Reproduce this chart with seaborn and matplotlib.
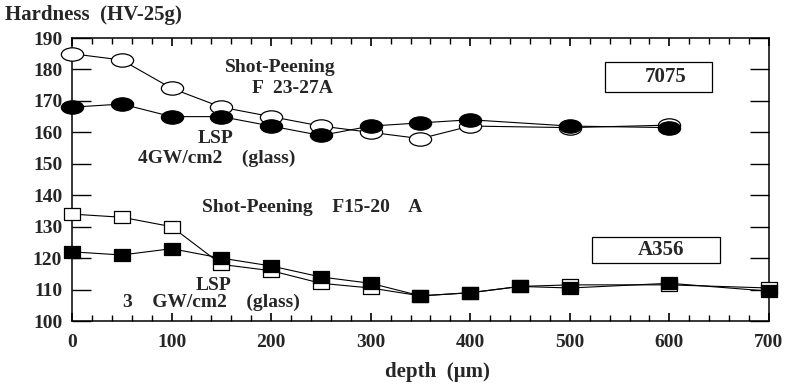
import matplotlib
matplotlib.use("Agg")
import matplotlib.pyplot as plt
import matplotlib.ticker as ticker
from matplotlib.path import Path
from matplotlib.markers import MarkerStyle
from matplotlib.patches import Rectangle
import numpy as np
import pandas as pd
import seaborn as sns

# depth (um) and hardness (HV-25g)
DEPTH_7075 = [0, 50, 100, 150, 200, 250, 300, 350, 400, 500, 600]
SP_7075 = [185, 183, 174, 168, 165, 162, 160, 158, 162, 161.5, 162.3]
LSP_7075 = [168, 169, 165, 165, 162, 159, 162, 163, 164, 162, 161.5]

DEPTH_A356 = [0, 50, 100, 150, 200, 250, 300, 350, 400, 450, 500, 600, 700]
SP_A356 = [134, 133, 130, 118, 116, 112, 110.5, 108, 109, 111, 111.5, 111.5, 110.5]
LSP_A356 = [122, 121, 123, 120, 117.5, 114, 112, 108, 109, 111, 110.5, 112, 109.5]

sns.set_style("ticks")
plt.rcParams["font.family"] = ["Liberation Serif", "DejaVu Serif"]
plt.rcParams["font.weight"] = "bold"

# flattened marker shapes (the scan shows squashed circles/squares)
circ = Path.unit_circle()
ell = Path(circ.vertices * np.array([1.0, 0.6]), circ.codes)
sq = Path([(-1, -0.75), (1, -0.75), (1, 0.75), (-1, 0.75), (-1, -0.75)],
          [Path.MOVETO, Path.LINETO, Path.LINETO, Path.LINETO, Path.CLOSEPOLY])

fig = plt.figure(figsize=(8.09, 3.87), dpi=100)
ax = fig.add_axes([0.089, 0.1705, 0.8615, 0.7313])

series = [
    (DEPTH_7075, SP_7075, ell, "white", 16),
    (DEPTH_7075, LSP_7075, ell, "black", 16),
    (DEPTH_A356, SP_A356, sq, "white", 12),
    (DEPTH_A356, LSP_A356, sq, "black", 12),
]
for xs, ys, mk, fc, ms in series:
    df = pd.DataFrame({"depth": xs, "hv": ys})
    sns.lineplot(data=df, x="depth", y="hv", ax=ax, color="black", lw=0.8,
                 marker=MarkerStyle(mk), markersize=ms, markerfacecolor=fc,
                 markeredgecolor="black", markeredgewidth=0.9, clip_on=False,
                 zorder=3)

ax.set_xlim(0, 700)
ax.set_ylim(100, 190)
ax.set_xlabel("")
ax.set_ylabel("")
ax.set_axisbelow(False)
ax.xaxis.set_major_locator(ticker.MultipleLocator(100))
ax.xaxis.set_minor_locator(ticker.MultipleLocator(20))
ax.yaxis.set_major_locator(ticker.MultipleLocator(10))
ax.yaxis.set_minor_locator(ticker.NullLocator())
ax.xaxis.set_ticks_position("both")
ax.yaxis.set_ticks_position("both")
ax.tick_params(axis="x", which="major", direction="in", length=6, width=1.2,
               pad=9, labelsize=14, color="black")
ax.tick_params(axis="x", which="minor", direction="in", length=4, width=1.0,
               color="black")
ax.tick_params(axis="y", which="major", direction="in", length=14, width=1.0,
               pad=7, labelsize=14, color="black")
for s in ax.spines.values():
    s.set_linewidth(1.1)
    s.set_color("black")

fs = 14
ax.text(209, 180.5, "Shot-Peening", ha="center", va="center", fontsize=fs, fontweight="bold")
ax.text(221, 174, "F  23-27A", ha="center", va="center", fontsize=fs, fontweight="bold")
ax.text(144, 158, "LSP", ha="center", va="center", fontsize=fs, fontweight="bold")
ax.text(145, 151.8, "4GW/cm2    (glass)", ha="center", va="center", fontsize=fs, fontweight="bold")
ax.text(241, 136, "Shot-Peening    F15-20    A", ha="center", va="center", fontsize=fs, fontweight="bold")
ax.text(142, 111.4, "LSP", ha="center", va="center", fontsize=fs, fontweight="bold")
ax.text(140, 106, "3    GW/cm2    (glass)", ha="center", va="center", fontsize=fs, fontweight="bold")

ax.add_patch(Rectangle((535, 172.8), 108, 9.6, fill=False, lw=0.9, ec="black"))
ax.text(596, 177.6, "7075", ha="center", va="center", fontsize=15, fontweight="bold")
ax.add_patch(Rectangle((522, 118.4), 129, 8.3, fill=False, lw=0.9, ec="black"))
ax.text(592, 122.6, "A356", ha="center", va="center", fontsize=15, fontweight="bold")

fig.text(5 / 809, 1 - 15 / 387, "Hardness  (HV-25g)", ha="left", va="center",
         fontsize=15, fontweight="bold")
fig.text(437 / 809, 1 - 372 / 387, "depth  (\u00b5m)", ha="center", va="center",
         fontsize=15, fontweight="bold")

fig.savefig("out.png", dpi=100)
